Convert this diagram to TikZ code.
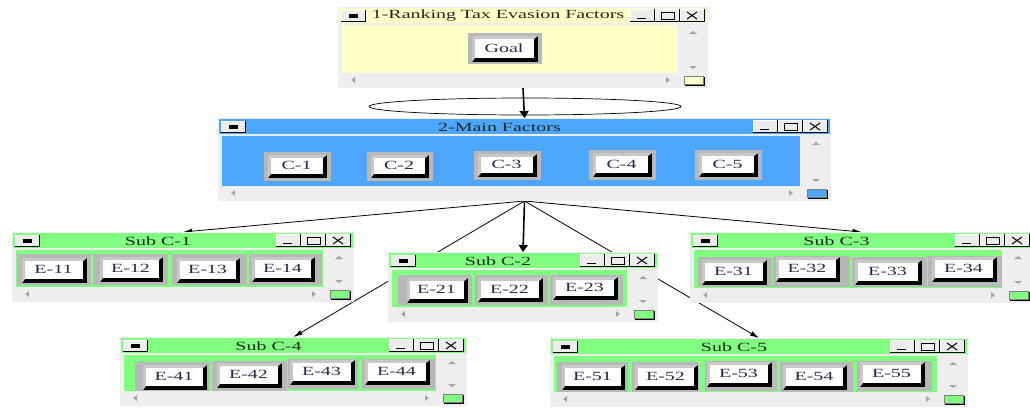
\documentclass[tikz,border=0pt]{standalone}
\usepackage{fontspec}
\setmainfont[FakeStretch=1.6]{Liberation Serif}
\usetikzlibrary{arrows.meta}
\pgfdeclarelayer{links}
\pgfsetlayers{links,main}

\definecolor{paneyellow}{RGB}{255,255,200}
\definecolor{paneblue}{RGB}{77,166,255}
\definecolor{panegreen}{RGB}{128,255,128}
\definecolor{chrome}{RGB}{238,238,238}
\definecolor{btnframe}{RGB}{184,184,184}
\definecolor{bevel}{RGB}{200,200,200}
\definecolor{labelink}{RGB}{40,40,72}
\definecolor{titleink}{RGB}{30,40,30}
\definecolor{arrowgray}{RGB}{165,165,165}

\tikzset{
  winframe/.style={rectangle, fill=chrome, draw=none, inner sep=0pt, outer sep=0pt},
  titletext/.style={font=\fontsize{12.5}{14}\selectfont, text=titleink, inner sep=0pt},
  btntext/.style={font=\fontsize{12.5}{14}\selectfont, text=labelink, inner sep=0pt},
  link/.style={draw=black, line width=0.8pt, -{Latex[length=9pt,width=5pt]}},
  mainlink/.style={draw=black, line width=1.6pt, -{Triangle[length=7pt,width=9pt]}},
  lens/.style={draw=black, line width=0.7pt},
}

% small raised title-bar button: x1, y1, x2, y2
\newcommand\tbutton[4]{%
  \fill[black] ({#1},{#2}) rectangle ({#3},{#4});
  \fill[white] ({#1},{#2}) rectangle ({#3-1.5},{#4-1.5});
  \fill[gray!15] ({#1+1},{#2+1}) rectangle ({#3-1.5},{#4-1.5});
}

% window: name, X, Y, width, height, pane colour, title
\newcommand\appwindow[7]{%
  \node[winframe, minimum width=#4pt, minimum height=#5pt, anchor=north west] (#1) at (#2,#3) {};
  \fill[#6] ({#2+1},{#3+1}) rectangle ({#2+#4-1},{#3+16});
  \fill[#6] ({#2+4},{#3+18}) rectangle ({#2+#4-31},{#3+#5-15});
  % system menu button
  \tbutton{#2+3}{#3+3}{#2+28}{#3+15}
  \fill[black] ({#2+11},{#3+7}) rectangle ({#2+20},{#3+11});
  % minimise, maximise, close
  \tbutton{#2+#4-78}{#3+2}{#2+#4-53}{#3+15}
  \tbutton{#2+#4-53}{#3+2}{#2+#4-28}{#3+15}
  \tbutton{#2+#4-28}{#3+2}{#2+#4-3}{#3+15}
  \draw[line width=1.3pt] ({#2+#4-71},{#3+11.5}) -- ({#2+#4-62},{#3+11.5});
  \draw[line width=0.9pt] ({#2+#4-47},{#3+5}) rectangle ({#2+#4-34},{#3+12});
  \draw[line width=1pt] ({#2+#4-21},{#3+5}) -- ({#2+#4-11},{#3+12})
                        ({#2+#4-21},{#3+12}) -- ({#2+#4-11},{#3+5});
  \node[titletext] (#1-title) at ({#2+(#4-50)/2},{#3+9}) {#7};
  % scroll arrows
  \fill[arrowgray] ({#2+#4-19},{#3+27}) -- ({#2+#4-15},{#3+24}) -- ({#2+#4-11},{#3+27}) -- cycle;
  \fill[arrowgray] ({#2+#4-19},{#3+#5-22}) -- ({#2+#4-15},{#3+#5-19}) -- ({#2+#4-11},{#3+#5-22}) -- cycle;
  \fill[arrowgray] ({#2+17},{#3+#5-11}) -- ({#2+13},{#3+#5-8}) -- ({#2+17},{#3+#5-5}) -- cycle;
  \fill[arrowgray] ({#2+#4-42},{#3+#5-11}) -- ({#2+#4-38},{#3+#5-8}) -- ({#2+#4-42},{#3+#5-5}) -- cycle;
  % size grip
  \fill[black] ({#2+#4-23},{#3+#5-11}) rectangle ({#2+#4-3},{#3+#5-2});
  \fill[#6, draw=gray, line width=0.5pt] ({#2+#4-24},{#3+#5-12}) rectangle ({#2+#4-5},{#3+#5-4});
}

% element button: label (also node name), frame x1,y1,x2,y2, face x1,y1,x2,y2
\def\ebtn#1(#2,#3,#4,#5)(#6,#7,#8,#9){%
  \fill[btnframe] (#2,#3) rectangle (#4,#5);
  \fill[black] (#6,#7) rectangle (#8,#9);
  \fill[bevel] (#6,#7) -- (#8,#7) -- ({#8-4},{#7+3}) -- ({#6+3},{#7+3})
               -- ({#6+3},{#9-4}) -- (#6,#9) -- cycle;
  \fill[white] ({#6+3},{#7+3}) rectangle ({#8-4},{#9-4});
  \node[btntext] (#1) at ({(#6+#8)/2-1},{(#7+#9)/2-1}) {#1};
}

\begin{document}
\begin{tikzpicture}[x=1pt, y=-1pt]
  \useasboundingbox (0,0) rectangle (1030,407);
  \clip (0,0) rectangle (1030,407);

  % goal window
  \appwindow{goalwin}{338}{7}{370}{81}{paneyellow}{1-Ranking Tax Evasion Factors}
  \ebtn{Goal}(468,33,542,64)(472,36,538,62)

  % main factors window
  \appwindow{mainwin}{218}{118}{613}{83}{paneblue}{2-Main Factors}
  \ebtn{C-1}(264,152,331,181)(268,155,327,178)
  \ebtn{C-2}(367,152,433,181)(371,155,429,178)
  \ebtn{C-3}(474,151,541,180)(478,154,537,177)
  \ebtn{C-4}(589,150,656,180)(593,153,652,177)
  \ebtn{C-5}(695,150,762,180)(699,153,758,177)

  % sub-factor windows
  \appwindow{subone}{12}{232}{342}{70}{panegreen}{Sub C-1}
  \ebtn{E-11}(17,254,91,285)(22,258,87,283)
  \ebtn{E-12}(93,254,168,285)(100,257,163,282)
  \ebtn{E-13}(172,254,247,285)(177,258,240,283)
  \ebtn{E-14}(249,254,322,285)(252,257,315,282)

  \appwindow{subtwo}{388}{252}{270}{70}{panegreen}{Sub C-2}
  \ebtn{E-21}(398,275,472,305)(407,278,468,303)
  \ebtn{E-22}(475,275,548,305)(478,278,543,302)
  \ebtn{E-23}(550,275,623,305)(553,277,618,300)

  \appwindow{subthree}{690}{232}{343}{71}{panegreen}{Sub C-3}
  \ebtn{E-31}(698,257,772,287)(702,260,767,285)
  \ebtn{E-32}(773,256,850,287)(776,257,840,282)
  \ebtn{E-33}(852,257,927,287)(855,260,922,285)
  \ebtn{E-34}(928,256,1002,287)(932,257,997,282)

  \appwindow{subfour}{120}{337}{347}{69}{panegreen}{Sub C-4}
  \ebtn{E-41}(135,362,210,391)(143,365,207,390)
  \ebtn{E-42}(212,361,287,391)(217,363,282,388)
  \ebtn{E-43}(288,359,358,389)(290,360,355,385)
  \ebtn{E-44}(362,359,435,389)(365,360,430,385)

  \appwindow{subfive}{550}{338}{418}{69}{panegreen}{Sub C-5}
  \ebtn{E-51}(557,362,628,392)(562,365,625,390)
  \ebtn{E-52}(632,362,699,392)(635,365,698,390)
  \ebtn{E-53}(705,361,777,391)(707,362,772,387)
  \ebtn{E-54}(780,362,853,392)(783,365,847,390)
  \ebtn{E-55}(857,361,932,391)(860,362,925,387)

  % white ground and the links between the windows, kept underneath them
  \begin{pgfonlayer}{links}
    \fill[white] (0,0) rectangle (1030,407);
    \draw[lens] (525,106.5) ellipse [x radius=156, y radius=8.5];
    \draw[mainlink] (goalwin.south) -- (mainwin.north);
    \draw[link] (mainwin.south) -- (subone.north);
    \draw[mainlink] (mainwin.south) -- (subtwo.north);
    \draw[link] (mainwin.south) -- (subthree.north);
    \draw[link] (mainwin.south) -- (subfour.north);
    \draw[link] (mainwin.south) -- (subfive.north);
  \end{pgfonlayer}
\end{tikzpicture}
\end{document}
